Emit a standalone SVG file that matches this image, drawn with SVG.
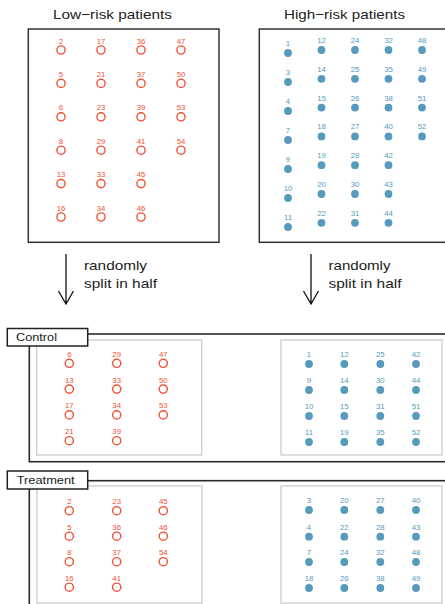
<svg xmlns="http://www.w3.org/2000/svg" width="445" height="604" viewBox="0 0 445 604">
<style>
text{font-family:"Liberation Sans",Arial,sans-serif}
.title{font-size:13px;fill:#222;text-anchor:middle}
.note{font-size:13px;fill:#222}
.tag{font-size:11.5px;fill:#222}
.box{fill:none;stroke:#333;stroke-width:1.5}
.outer{fill:none;stroke:#2a2a2a;stroke-width:1.6}
.inner{fill:none;stroke:#c9c9c9;stroke-width:1.2}
.tagbox{fill:#fff;stroke:#222;stroke-width:1.5}
.lo circle{fill:none;stroke:#F05133;stroke-width:1.4}
.lo text{font-size:7.8px;fill:#F05133;text-anchor:middle}
.hi circle{fill:#569BBD;stroke:none}
.hi text{font-size:7.8px;fill:#569BBD;text-anchor:middle}
.arrow{fill:none;stroke:#111;stroke-width:1.3}
</style>

<g id="low-risk">
<text class="title" x="112.5" y="19" textLength="119" lengthAdjust="spacingAndGlyphs">Low−risk patients</text>
<rect class="box" x="28.3" y="29" width="190.7" height="213.3"/>
<g class="lo">
<g id="lr-2"><text x="61" y="43.5">2</text><circle cx="61" cy="50" r="4.1"/></g>
<g id="lr-5"><text x="61" y="76.9">5</text><circle cx="61" cy="83.4" r="4.1"/></g>
<g id="lr-6"><text x="61" y="110.3">6</text><circle cx="61" cy="116.8" r="4.1"/></g>
<g id="lr-8"><text x="61" y="143.7">8</text><circle cx="61" cy="150.2" r="4.1"/></g>
<g id="lr-13"><text x="61" y="177.1">13</text><circle cx="61" cy="183.6" r="4.1"/></g>
<g id="lr-16"><text x="61" y="210.5">16</text><circle cx="61" cy="217" r="4.1"/></g>
<g id="lr-17"><text x="101" y="43.5">17</text><circle cx="101" cy="50" r="4.1"/></g>
<g id="lr-21"><text x="101" y="76.9">21</text><circle cx="101" cy="83.4" r="4.1"/></g>
<g id="lr-23"><text x="101" y="110.3">23</text><circle cx="101" cy="116.8" r="4.1"/></g>
<g id="lr-29"><text x="101" y="143.7">29</text><circle cx="101" cy="150.2" r="4.1"/></g>
<g id="lr-33"><text x="101" y="177.1">33</text><circle cx="101" cy="183.6" r="4.1"/></g>
<g id="lr-34"><text x="101" y="210.5">34</text><circle cx="101" cy="217" r="4.1"/></g>
<g id="lr-36"><text x="141" y="43.5">36</text><circle cx="141" cy="50" r="4.1"/></g>
<g id="lr-37"><text x="141" y="76.9">37</text><circle cx="141" cy="83.4" r="4.1"/></g>
<g id="lr-39"><text x="141" y="110.3">39</text><circle cx="141" cy="116.8" r="4.1"/></g>
<g id="lr-41"><text x="141" y="143.7">41</text><circle cx="141" cy="150.2" r="4.1"/></g>
<g id="lr-45"><text x="141" y="177.1">45</text><circle cx="141" cy="183.6" r="4.1"/></g>
<g id="lr-46"><text x="141" y="210.5">46</text><circle cx="141" cy="217" r="4.1"/></g>
<g id="lr-47"><text x="181" y="43.5">47</text><circle cx="181" cy="50" r="4.1"/></g>
<g id="lr-50"><text x="181" y="76.9">50</text><circle cx="181" cy="83.4" r="4.1"/></g>
<g id="lr-53"><text x="181" y="110.3">53</text><circle cx="181" cy="116.8" r="4.1"/></g>
<g id="lr-54"><text x="181" y="143.7">54</text><circle cx="181" cy="150.2" r="4.1"/></g>
</g>
</g>

<g id="high-risk">
<text class="title" x="344.5" y="19" textLength="121" lengthAdjust="spacingAndGlyphs">High−risk patients</text>
<rect class="box" x="259.3" y="29" width="200" height="213.3"/>
<g class="hi">
<g id="hr-1"><text x="288" y="45.5">1</text><circle cx="288" cy="53" r="3.9"/></g>
<g id="hr-3"><text x="288" y="74.5">3</text><circle cx="288" cy="82" r="3.9"/></g>
<g id="hr-4"><text x="288" y="103.5">4</text><circle cx="288" cy="111" r="3.9"/></g>
<g id="hr-7"><text x="288" y="132.5">7</text><circle cx="288" cy="140" r="3.9"/></g>
<g id="hr-9"><text x="288" y="161.5">9</text><circle cx="288" cy="169" r="3.9"/></g>
<g id="hr-10"><text x="288" y="190.5">10</text><circle cx="288" cy="198" r="3.9"/></g>
<g id="hr-11"><text x="288" y="219.5">11</text><circle cx="288" cy="227" r="3.9"/></g>
<g id="hr-12"><text x="321.5" y="43">12</text><circle cx="321.5" cy="50" r="3.9"/></g>
<g id="hr-14"><text x="321.5" y="71.8">14</text><circle cx="321.5" cy="78.8" r="3.9"/></g>
<g id="hr-15"><text x="321.5" y="100.6">15</text><circle cx="321.5" cy="107.6" r="3.9"/></g>
<g id="hr-18"><text x="321.5" y="129.4">18</text><circle cx="321.5" cy="136.4" r="3.9"/></g>
<g id="hr-19"><text x="321.5" y="158.2">19</text><circle cx="321.5" cy="165.2" r="3.9"/></g>
<g id="hr-20"><text x="321.5" y="187">20</text><circle cx="321.5" cy="194" r="3.9"/></g>
<g id="hr-22"><text x="321.5" y="215.8">22</text><circle cx="321.5" cy="222.8" r="3.9"/></g>
<g id="hr-24"><text x="355" y="43">24</text><circle cx="355" cy="50" r="3.9"/></g>
<g id="hr-25"><text x="355" y="71.8">25</text><circle cx="355" cy="78.8" r="3.9"/></g>
<g id="hr-26"><text x="355" y="100.6">26</text><circle cx="355" cy="107.6" r="3.9"/></g>
<g id="hr-27"><text x="355" y="129.4">27</text><circle cx="355" cy="136.4" r="3.9"/></g>
<g id="hr-28"><text x="355" y="158.2">28</text><circle cx="355" cy="165.2" r="3.9"/></g>
<g id="hr-30"><text x="355" y="187">30</text><circle cx="355" cy="194" r="3.9"/></g>
<g id="hr-31"><text x="355" y="215.8">31</text><circle cx="355" cy="222.8" r="3.9"/></g>
<g id="hr-32"><text x="388.5" y="43">32</text><circle cx="388.5" cy="50" r="3.9"/></g>
<g id="hr-35"><text x="388.5" y="71.8">35</text><circle cx="388.5" cy="78.8" r="3.9"/></g>
<g id="hr-38"><text x="388.5" y="100.6">38</text><circle cx="388.5" cy="107.6" r="3.9"/></g>
<g id="hr-40"><text x="388.5" y="129.4">40</text><circle cx="388.5" cy="136.4" r="3.9"/></g>
<g id="hr-42"><text x="388.5" y="158.2">42</text><circle cx="388.5" cy="165.2" r="3.9"/></g>
<g id="hr-43"><text x="388.5" y="187">43</text><circle cx="388.5" cy="194" r="3.9"/></g>
<g id="hr-44"><text x="388.5" y="215.8">44</text><circle cx="388.5" cy="222.8" r="3.9"/></g>
<g id="hr-48"><text x="422" y="43">48</text><circle cx="422" cy="50" r="3.9"/></g>
<g id="hr-49"><text x="422" y="71.8">49</text><circle cx="422" cy="78.8" r="3.9"/></g>
<g id="hr-51"><text x="422" y="100.6">51</text><circle cx="422" cy="107.6" r="3.9"/></g>
<g id="hr-52"><text x="422" y="129.4">52</text><circle cx="422" cy="136.4" r="3.9"/></g>
</g>
</g>

<g id="connectors">
<path class="arrow" d="M66 254 V304 M58.5 291 L66 304 L73.5 291"/>
<path class="arrow" d="M311 254 V304 M303.5 291 L311 304 L318.5 291"/>
<text class="note" x="84" y="270" textLength="63" lengthAdjust="spacingAndGlyphs">randomly</text>
<text class="note" x="84" y="288" textLength="73" lengthAdjust="spacingAndGlyphs">split in half</text>
<text class="note" x="328.5" y="270" textLength="62" lengthAdjust="spacingAndGlyphs">randomly</text>
<text class="note" x="328.5" y="288" textLength="73" lengthAdjust="spacingAndGlyphs">split in half</text>
</g>

<g id="control">
<rect class="outer" x="29.3" y="334" width="430" height="127.7"/>
<rect class="inner" x="36.7" y="340" width="165" height="115"/>
<rect class="inner" x="281" y="340" width="161" height="115"/>
<rect class="tagbox" x="7.3" y="328.5" width="80.4" height="17.5"/>
<text class="tag" x="16" y="341" textLength="41" lengthAdjust="spacingAndGlyphs">Control</text>
<g class="lo">
<g id="c-6"><text x="69.3" y="356.8">6</text><circle cx="69.3" cy="363.3" r="4.1"/></g>
<g id="c-13"><text x="69.3" y="382.6">13</text><circle cx="69.3" cy="389.1" r="4.1"/></g>
<g id="c-17"><text x="69.3" y="408.4">17</text><circle cx="69.3" cy="414.9" r="4.1"/></g>
<g id="c-21"><text x="69.3" y="434.2">21</text><circle cx="69.3" cy="440.7" r="4.1"/></g>
<g id="c-29"><text x="116.7" y="356.8">29</text><circle cx="116.7" cy="363.3" r="4.1"/></g>
<g id="c-33"><text x="116.7" y="382.6">33</text><circle cx="116.7" cy="389.1" r="4.1"/></g>
<g id="c-34"><text x="116.7" y="408.4">34</text><circle cx="116.7" cy="414.9" r="4.1"/></g>
<g id="c-39"><text x="116.7" y="434.2">39</text><circle cx="116.7" cy="440.7" r="4.1"/></g>
<g id="c-47"><text x="163.3" y="356.8">47</text><circle cx="163.3" cy="363.3" r="4.1"/></g>
<g id="c-50"><text x="163.3" y="382.6">50</text><circle cx="163.3" cy="389.1" r="4.1"/></g>
<g id="c-53"><text x="163.3" y="408.4">53</text><circle cx="163.3" cy="414.9" r="4.1"/></g>
</g>
<g class="hi">
<g id="c-1"><text x="309" y="357">1</text><circle cx="309" cy="364" r="3.9"/></g>
<g id="c-9"><text x="309" y="383">9</text><circle cx="309" cy="390" r="3.9"/></g>
<g id="c-10"><text x="309" y="409">10</text><circle cx="309" cy="416" r="3.9"/></g>
<g id="c-11"><text x="309" y="435">11</text><circle cx="309" cy="442" r="3.9"/></g>
<g id="c-12"><text x="344.3" y="357">12</text><circle cx="344.3" cy="364" r="3.9"/></g>
<g id="c-14"><text x="344.3" y="383">14</text><circle cx="344.3" cy="390" r="3.9"/></g>
<g id="c-15"><text x="344.3" y="409">15</text><circle cx="344.3" cy="416" r="3.9"/></g>
<g id="c-19"><text x="344.3" y="435">19</text><circle cx="344.3" cy="442" r="3.9"/></g>
<g id="c-25"><text x="380.3" y="357">25</text><circle cx="380.3" cy="364" r="3.9"/></g>
<g id="c-30"><text x="380.3" y="383">30</text><circle cx="380.3" cy="390" r="3.9"/></g>
<g id="c-31"><text x="380.3" y="409">31</text><circle cx="380.3" cy="416" r="3.9"/></g>
<g id="c-35"><text x="380.3" y="435">35</text><circle cx="380.3" cy="442" r="3.9"/></g>
<g id="c-42"><text x="416" y="357">42</text><circle cx="416" cy="364" r="3.9"/></g>
<g id="c-44"><text x="416" y="383">44</text><circle cx="416" cy="390" r="3.9"/></g>
<g id="c-51"><text x="416" y="409">51</text><circle cx="416" cy="416" r="3.9"/></g>
<g id="c-52"><text x="416" y="435">52</text><circle cx="416" cy="442" r="3.9"/></g>
</g>
</g>

<g id="treatment">
<rect class="outer" x="29.3" y="480.7" width="430" height="140"/>
<rect class="inner" x="37" y="486" width="165" height="117"/>
<rect class="inner" x="281" y="486" width="161" height="117"/>
<rect class="tagbox" x="7.3" y="471" width="80.4" height="18"/>
<text class="tag" x="16.7" y="484" textLength="58" lengthAdjust="spacingAndGlyphs">Treatment</text>
<g class="lo">
<g id="t-2"><text x="69.3" y="504.2">2</text><circle cx="69.3" cy="510.7" r="4.1"/></g>
<g id="t-5"><text x="69.3" y="529.7">5</text><circle cx="69.3" cy="536.2" r="4.1"/></g>
<g id="t-8"><text x="69.3" y="555.2">8</text><circle cx="69.3" cy="561.7" r="4.1"/></g>
<g id="t-16"><text x="69.3" y="580.7">16</text><circle cx="69.3" cy="587.2" r="4.1"/></g>
<g id="t-23"><text x="116.7" y="504.2">23</text><circle cx="116.7" cy="510.7" r="4.1"/></g>
<g id="t-36"><text x="116.7" y="529.7">36</text><circle cx="116.7" cy="536.2" r="4.1"/></g>
<g id="t-37"><text x="116.7" y="555.2">37</text><circle cx="116.7" cy="561.7" r="4.1"/></g>
<g id="t-41"><text x="116.7" y="580.7">41</text><circle cx="116.7" cy="587.2" r="4.1"/></g>
<g id="t-45"><text x="163.3" y="504.2">45</text><circle cx="163.3" cy="510.7" r="4.1"/></g>
<g id="t-46"><text x="163.3" y="529.7">46</text><circle cx="163.3" cy="536.2" r="4.1"/></g>
<g id="t-54"><text x="163.3" y="555.2">54</text><circle cx="163.3" cy="561.7" r="4.1"/></g>
</g>
<g class="hi">
<g id="t-3"><text x="309" y="503">3</text><circle cx="309" cy="510" r="3.9"/></g>
<g id="t-4"><text x="309" y="529.7">4</text><circle cx="309" cy="536.7" r="3.9"/></g>
<g id="t-7"><text x="309" y="555">7</text><circle cx="309" cy="562" r="3.9"/></g>
<g id="t-18"><text x="309" y="581">18</text><circle cx="309" cy="588" r="3.9"/></g>
<g id="t-20"><text x="344.3" y="503">20</text><circle cx="344.3" cy="510" r="3.9"/></g>
<g id="t-22"><text x="344.3" y="529.7">22</text><circle cx="344.3" cy="536.7" r="3.9"/></g>
<g id="t-24"><text x="344.3" y="555">24</text><circle cx="344.3" cy="562" r="3.9"/></g>
<g id="t-26"><text x="344.3" y="581">26</text><circle cx="344.3" cy="588" r="3.9"/></g>
<g id="t-27"><text x="380.3" y="503">27</text><circle cx="380.3" cy="510" r="3.9"/></g>
<g id="t-28"><text x="380.3" y="529.7">28</text><circle cx="380.3" cy="536.7" r="3.9"/></g>
<g id="t-32"><text x="380.3" y="555">32</text><circle cx="380.3" cy="562" r="3.9"/></g>
<g id="t-38"><text x="380.3" y="581">38</text><circle cx="380.3" cy="588" r="3.9"/></g>
<g id="t-40"><text x="416" y="503">40</text><circle cx="416" cy="510" r="3.9"/></g>
<g id="t-43"><text x="416" y="529.7">43</text><circle cx="416" cy="536.7" r="3.9"/></g>
<g id="t-48"><text x="416" y="555">48</text><circle cx="416" cy="562" r="3.9"/></g>
<g id="t-49"><text x="416" y="581">49</text><circle cx="416" cy="588" r="3.9"/></g>
</g>
</g>
</svg>
